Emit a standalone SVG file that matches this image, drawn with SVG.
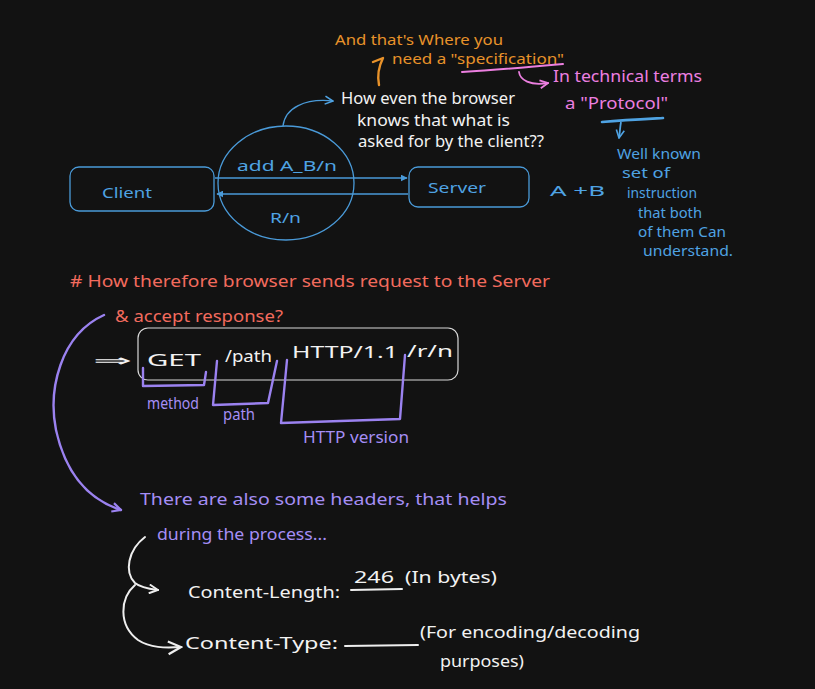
<svg xmlns="http://www.w3.org/2000/svg" width="815" height="689" viewBox="0 0 815 689">
<style>
text{font-family:"Noto Sans","Liberation Sans",sans-serif;}
.or{fill:#e8922a;font-size:15px;}
.pk{fill:#ec7fe0;font-size:17px;}
.bl{fill:#4fa3e3;font-size:15px;}
.df{fill:#4fa3e3;font-size:13.5px;}
.wh{fill:#f2f2f2;font-size:16px;}
.sa{fill:#f26b5e;font-size:17px;}
.pu{fill:#a58ef5;font-size:17px;}
.box{fill:none;stroke:#4a9ad8;stroke-width:1.3;}
.bline{fill:none;stroke:#4a9ad8;stroke-width:1.3;}
.pline{fill:none;stroke:#9b82f0;stroke-width:2.4;stroke-linecap:round;stroke-linejoin:round;}
.wline{fill:none;stroke:#eeeeee;stroke-width:2;stroke-linecap:round;stroke-linejoin:round;}
</style>
<defs>
<marker id="tri" viewBox="0 0 10 10" refX="9" refY="5" markerWidth="7" markerHeight="7" orient="auto" markerUnits="userSpaceOnUse">
<path d="M0,0 L10,5 L0,10 z" fill="#4a9ad8"/>
</marker>
<marker id="openB" viewBox="0 0 10 10" refX="9" refY="5" markerWidth="10" markerHeight="10" orient="auto" markerUnits="userSpaceOnUse">
<path d="M1,1 L9,5 L1,9" fill="none" stroke="#4fa3e3" stroke-width="1.6"/>
</marker>
<marker id="openP" viewBox="0 0 10 10" refX="9" refY="5" markerWidth="10" markerHeight="10" orient="auto" markerUnits="userSpaceOnUse">
<path d="M1,1 L9,5 L1,9" fill="none" stroke="#ec7fe0" stroke-width="1.8"/>
</marker>
<marker id="openU" viewBox="0 0 10 10" refX="9" refY="5" markerWidth="11" markerHeight="11" orient="auto" markerUnits="userSpaceOnUse">
<path d="M1,1 L9,5 L1,9" fill="none" stroke="#9b82f0" stroke-width="2"/>
</marker>
<marker id="openW" viewBox="0 0 10 10" refX="9" refY="5" markerWidth="11" markerHeight="11" orient="auto" markerUnits="userSpaceOnUse">
<path d="M1,1 L9,5 L1,9" fill="none" stroke="#eeeeee" stroke-width="1.8"/>
</marker>
<marker id="openW2" viewBox="0 0 10 10" refX="9" refY="5" markerWidth="16" markerHeight="16" orient="auto" markerUnits="userSpaceOnUse">
<path d="M1,1 L9,5 L1,9" fill="none" stroke="#eeeeee" stroke-width="1.4"/>
</marker>
</defs>
<rect x="0" y="0" width="815" height="689" fill="#121212"/>

<g id="client">
<rect class="box" x="70" y="167" width="144" height="44" rx="9"/>
<text class="bl" x="102" y="198" font-size="19" textLength="50" lengthAdjust="spacingAndGlyphs">Client</text>
</g>
<g id="server">
<rect class="box" x="409" y="167" width="120" height="40" rx="9"/>
<text class="bl" x="428" y="193" font-size="18" textLength="58" lengthAdjust="spacingAndGlyphs">Server</text>
</g>
<g id="message-bubble">
<ellipse class="box" cx="286" cy="183" rx="68" ry="57"/>
<text class="bl" x="237" y="171" font-size="18" textLength="100" lengthAdjust="spacingAndGlyphs">add A_B/n</text>
<text class="bl" x="270" y="223" font-size="20" textLength="31" lengthAdjust="spacingAndGlyphs">R/n</text>
</g>
<g id="question">
<text class="wh" x="341" y="104" textLength="174" lengthAdjust="spacingAndGlyphs">How even the browser</text>
<text class="wh" x="357" y="126" textLength="153" lengthAdjust="spacingAndGlyphs">knows that what is</text>
<text class="wh" x="358" y="147" textLength="186" lengthAdjust="spacingAndGlyphs">asked for by the client??</text>
</g>
<g id="specification">
<text class="or" x="335" y="45" textLength="168" lengthAdjust="spacingAndGlyphs">And that's Where you</text>
<text class="or" x="392" y="64" textLength="172" lengthAdjust="spacingAndGlyphs">need a "specification"</text>
</g>
<g id="protocol">
<text class="pk" x="553" y="82" textLength="149" lengthAdjust="spacingAndGlyphs">In technical terms</text>
<text class="pk" x="565" y="109" textLength="103" lengthAdjust="spacingAndGlyphs">a "Protocol"</text>
</g>
<g id="definition">
<text class="df" x="617" y="159" textLength="84" lengthAdjust="spacingAndGlyphs">Well known</text>
<text class="df" x="622" y="178" textLength="48" lengthAdjust="spacingAndGlyphs">set of</text>
<text class="df" x="627" y="198" textLength="70" lengthAdjust="spacingAndGlyphs">instruction</text>
<text class="df" x="638" y="218" textLength="64" lengthAdjust="spacingAndGlyphs">that both</text>
<text class="df" x="638" y="237" textLength="88" lengthAdjust="spacingAndGlyphs">of them Can</text>
<text class="df" x="643" y="256" textLength="90" lengthAdjust="spacingAndGlyphs">understand.</text>
</g>
<g id="sum">
<text class="bl" x="550" y="196" font-size="22" textLength="55" lengthAdjust="spacingAndGlyphs">A +B</text>
</g>
<g id="heading">
<text class="sa" x="70" y="287" textLength="480" lengthAdjust="spacingAndGlyphs"># How therefore browser sends request to the Server</text>
<text class="sa" x="115" y="322" textLength="168" lengthAdjust="spacingAndGlyphs">&amp; accept response?</text>
</g>
<g id="request-line">
<text class="wh" x="93" y="366" font-size="30" textLength="38" lengthAdjust="spacingAndGlyphs">⇒</text>
<rect x="138" y="328" width="320" height="52" rx="10" fill="none" stroke="#d8d8d8" stroke-width="1.2"/>
<text class="wh" x="147" y="366" font-size="24" textLength="54" lengthAdjust="spacingAndGlyphs">GET</text>
<text class="wh" x="225" y="362" font-size="17" textLength="47" lengthAdjust="spacingAndGlyphs">/path</text>
<text class="wh" x="292" y="358" font-size="24" textLength="106" lengthAdjust="spacingAndGlyphs">HTTP/1.1</text>
<text class="wh" x="407" y="357" font-size="20" textLength="46" lengthAdjust="spacingAndGlyphs">/r/n</text>
</g>
<g id="labels">
<text class="pu" x="147" y="409" font-size="15" textLength="52" lengthAdjust="spacingAndGlyphs">method</text>
<text class="pu" x="223" y="420" font-size="15" textLength="32" lengthAdjust="spacingAndGlyphs">path</text>
<text class="pu" x="303" y="443" font-size="15" textLength="106" lengthAdjust="spacingAndGlyphs">HTTP version</text>
</g>
<g id="headers-note">
<text class="pu" x="140" y="505" font-size="18" textLength="367" lengthAdjust="spacingAndGlyphs">There are also some headers, that helps</text>
<text class="pu" x="157" y="540" font-size="18" textLength="170" lengthAdjust="spacingAndGlyphs">during the process...</text>
</g>
<g id="content-length">
<text class="wh" x="188" y="598" font-size="21" textLength="152" lengthAdjust="spacingAndGlyphs">Content-Length:</text>
<text class="wh" x="354" y="583" font-size="20" textLength="40" lengthAdjust="spacingAndGlyphs">246</text>
<line class="wline" x1="351" y1="590" x2="402" y2="589" stroke-width="1.6"/>
<text class="wh" x="405" y="583" font-size="20" textLength="92" lengthAdjust="spacingAndGlyphs">(In bytes)</text>
</g>
<g id="content-type">
<text class="wh" x="185" y="649" font-size="24" textLength="153" lengthAdjust="spacingAndGlyphs">Content-Type:</text>
<line class="wline" x1="345" y1="646" x2="418" y2="645" stroke-width="1.6"/>
<text class="wh" x="420" y="638" font-size="21" textLength="220" lengthAdjust="spacingAndGlyphs">(For encoding/decoding</text>
<text class="wh" x="440" y="667" font-size="18" textLength="84" lengthAdjust="spacingAndGlyphs">purposes)</text>
</g>

<g id="connectors">
<line class="bline" x1="215" y1="178" x2="407" y2="178" marker-end="url(#tri)"/>
<line class="bline" x1="408" y1="194" x2="217" y2="194" marker-end="url(#tri)"/>
<path class="bline" d="M283,126 C285,108 305,98 333,101" stroke-width="1.6" marker-end="url(#openB)"/>
<path d="M373,62 L383,58 C379,66 377,75 379,85" fill="none" stroke="#e8922a" stroke-width="2.4" stroke-linecap="round" stroke-linejoin="round"/>
<path d="M462,72 C495,70 530,67 563,64" fill="none" stroke="#ec7fe0" stroke-width="2" stroke-linecap="round"/>
<path d="M519,72 C520,80 530,86 548,83" fill="none" stroke="#ec7fe0" stroke-width="1.8" stroke-linecap="round" marker-end="url(#openP)"/>
<path d="M602,122 C625,120 645,119 663,118" fill="none" stroke="#4fa3e3" stroke-width="2.6" stroke-linecap="round"/>
<path d="M621,122 C620,127 620,132 619,138" fill="none" stroke="#4fa3e3" stroke-width="1.8" marker-end="url(#openB)"/>
<path class="pline" d="M104,315 C60,335 48,390 56,430 C66,475 90,500 121,510" marker-end="url(#openU)"/>
<path class="pline" d="M143,368 L143,386 L204,385 L206,372"/>
<path class="pline" d="M217,361 L213,405 L268,403 L277,361"/>
<path class="pline" d="M287,360 L281,423 L400,419 L405,355"/>
<path class="wline" d="M145,537 C128,550 124,572 135,583 C141,588 150,589 158,590" marker-end="url(#openW)"/>
<path class="wline" d="M135,585 C120,598 118,625 138,640 C150,648 165,648 181,647" marker-end="url(#openW2)"/>
</g>
</svg>
